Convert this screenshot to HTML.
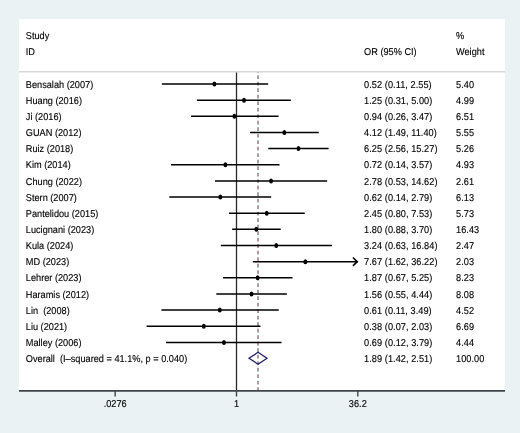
<!DOCTYPE html>
<html><head><meta charset="utf-8"><style>
html,body{margin:0;padding:0;background:#eaf2f3;width:520px;height:433px;overflow:hidden}
svg{display:block;will-change:transform}
.ci{stroke:#000;stroke-width:1.5}
.arr{stroke:#000;stroke-width:1.6;fill:none;stroke-linecap:round;stroke-linejoin:miter}
.pt{fill:#000}
</style></head><body>
<svg width="520" height="433" viewBox="0 0 520 433">
<rect x="0" y="0" width="520" height="433" fill="#eaf2f3"/>
<rect x="19" y="19" width="486" height="372" fill="#ffffff"/>
<line x1="19" y1="71.85" x2="505" y2="71.85" stroke="#d8d8d8" stroke-width="1.5"/>
<line x1="236.5" y1="72.5" x2="236.5" y2="391" stroke="#2a2a2a" stroke-width="1.3"/>
<line x1="258.02" y1="72" x2="258.02" y2="390.5" stroke="#82696f" stroke-width="1.3" stroke-dasharray="3.7,2.8" stroke-dashoffset="3.2"/>
<line x1="161.89" y1="84.00" x2="268.14" y2="84.00" class="ci"/><ellipse cx="214.40" cy="84.00" rx="1.95" ry="2.5" class="pt"/><line x1="196.91" y1="100.15" x2="290.90" y2="100.15" class="ci"/><ellipse cx="244.04" cy="100.15" rx="1.95" ry="2.5" class="pt"/><line x1="190.97" y1="116.30" x2="278.55" y2="116.30" class="ci"/><ellipse cx="234.41" cy="116.30" rx="1.95" ry="2.5" class="pt"/><line x1="249.98" y1="132.45" x2="318.76" y2="132.45" class="ci"/><ellipse cx="284.36" cy="132.45" rx="1.95" ry="2.5" class="pt"/><line x1="268.27" y1="148.60" x2="328.64" y2="148.60" class="ci"/><ellipse cx="298.44" cy="148.60" rx="1.95" ry="2.5" class="pt"/><line x1="171.00" y1="164.75" x2="279.51" y2="164.75" class="ci"/><ellipse cx="225.40" cy="164.75" rx="1.95" ry="2.5" class="pt"/><line x1="215.04" y1="180.90" x2="327.16" y2="180.90" class="ci"/><ellipse cx="271.06" cy="180.90" rx="1.95" ry="2.5" class="pt"/><line x1="169.31" y1="197.05" x2="271.18" y2="197.05" class="ci"/><ellipse cx="220.34" cy="197.05" rx="1.95" ry="2.5" class="pt"/><line x1="228.96" y1="213.20" x2="304.74" y2="213.20" class="ci"/><ellipse cx="266.79" cy="213.20" rx="1.95" ry="2.5" class="pt"/><line x1="232.18" y1="229.35" x2="280.72" y2="229.35" class="ci"/><ellipse cx="256.37" cy="229.35" rx="1.95" ry="2.5" class="pt"/><line x1="220.88" y1="245.50" x2="331.94" y2="245.50" class="ci"/><ellipse cx="276.23" cy="245.50" rx="1.95" ry="2.5" class="pt"/><line x1="252.81" y1="261.65" x2="357.81" y2="261.65" class="ci"/><polyline points="353.41,257.95 357.21,261.65 353.41,265.35" class="arr"/><ellipse cx="305.36" cy="261.65" rx="1.95" ry="2.5" class="pt"/><line x1="222.96" y1="277.80" x2="292.55" y2="277.80" class="ci"/><ellipse cx="257.66" cy="277.80" rx="1.95" ry="2.5" class="pt"/><line x1="216.29" y1="293.95" x2="286.88" y2="293.95" class="ci"/><ellipse cx="251.53" cy="293.95" rx="1.95" ry="2.5" class="pt"/><line x1="161.40" y1="310.10" x2="278.75" y2="310.10" class="ci"/><ellipse cx="219.79" cy="310.10" rx="1.95" ry="2.5" class="pt"/><line x1="146.62" y1="326.25" x2="260.43" y2="326.25" class="ci"/><ellipse cx="203.80" cy="326.25" rx="1.95" ry="2.5" class="pt"/><line x1="165.94" y1="342.40" x2="281.53" y2="342.40" class="ci"/><ellipse cx="223.96" cy="342.40" rx="1.95" ry="2.5" class="pt"/>
<path d="M249.0,358.25 L258.02,352.3 L267.0,358.25 L258.02,364.2 Z" fill="none" stroke="#1c1c5e" stroke-width="1.25"/>
<line x1="19" y1="390.9" x2="505" y2="390.9" stroke="#404448" stroke-width="1.6"/>
<g text-rendering="geometricPrecision" font-family="'Liberation Sans', sans-serif" font-size="9.2" fill="#000" stroke="#000" stroke-width="0.12">
<text transform="translate(25.80,39.20) scale(1.0,1.08)" xml:space="preserve">Study</text><text transform="translate(25.80,55.30) scale(1.0,1.08)" xml:space="preserve">ID</text><text transform="translate(364.10,55.30) scale(1.0,1.08)" xml:space="preserve">OR (95% CI)</text><text transform="translate(456.00,39.20) scale(1.0,1.08)" xml:space="preserve">%</text><text transform="translate(456.00,55.30) scale(1.0,1.08)" xml:space="preserve">Weight</text><text transform="translate(25.80,87.65) scale(1.0,1.08)" xml:space="preserve">Bensalah (2007)</text><text transform="translate(364.10,87.65) scale(1.0,1.08)" letter-spacing="0.05" xml:space="preserve">0.52 (0.11, 2.55)</text><text transform="translate(456.00,87.65) scale(1.0,1.08)" letter-spacing="0.05" xml:space="preserve">5.40</text><text transform="translate(25.80,103.80) scale(1.0,1.08)" xml:space="preserve">Huang (2016)</text><text transform="translate(364.10,103.80) scale(1.0,1.08)" letter-spacing="0.05" xml:space="preserve">1.25 (0.31, 5.00)</text><text transform="translate(456.00,103.80) scale(1.0,1.08)" letter-spacing="0.05" xml:space="preserve">4.99</text><text transform="translate(25.80,119.95) scale(1.0,1.08)" xml:space="preserve">Ji (2016)</text><text transform="translate(364.10,119.95) scale(1.0,1.08)" letter-spacing="0.05" xml:space="preserve">0.94 (0.26, 3.47)</text><text transform="translate(456.00,119.95) scale(1.0,1.08)" letter-spacing="0.05" xml:space="preserve">6.51</text><text transform="translate(25.80,136.10) scale(1.0,1.08)" xml:space="preserve">GUAN (2012)</text><text transform="translate(364.10,136.10) scale(1.0,1.08)" letter-spacing="0.05" xml:space="preserve">4.12 (1.49, 11.40)</text><text transform="translate(456.00,136.10) scale(1.0,1.08)" letter-spacing="0.05" xml:space="preserve">5.55</text><text transform="translate(25.80,152.25) scale(1.0,1.08)" xml:space="preserve">Ruiz (2018)</text><text transform="translate(364.10,152.25) scale(1.0,1.08)" letter-spacing="0.05" xml:space="preserve">6.25 (2.56, 15.27)</text><text transform="translate(456.00,152.25) scale(1.0,1.08)" letter-spacing="0.05" xml:space="preserve">5.26</text><text transform="translate(25.80,168.40) scale(1.0,1.08)" xml:space="preserve">Kim (2014)</text><text transform="translate(364.10,168.40) scale(1.0,1.08)" letter-spacing="0.05" xml:space="preserve">0.72 (0.14, 3.57)</text><text transform="translate(456.00,168.40) scale(1.0,1.08)" letter-spacing="0.05" xml:space="preserve">4.93</text><text transform="translate(25.80,184.55) scale(1.0,1.08)" xml:space="preserve">Chung (2022)</text><text transform="translate(364.10,184.55) scale(1.0,1.08)" letter-spacing="0.05" xml:space="preserve">2.78 (0.53, 14.62)</text><text transform="translate(456.00,184.55) scale(1.0,1.08)" letter-spacing="0.05" xml:space="preserve">2.61</text><text transform="translate(25.80,200.70) scale(1.0,1.08)" xml:space="preserve">Stern (2007)</text><text transform="translate(364.10,200.70) scale(1.0,1.08)" letter-spacing="0.05" xml:space="preserve">0.62 (0.14, 2.79)</text><text transform="translate(456.00,200.70) scale(1.0,1.08)" letter-spacing="0.05" xml:space="preserve">6.13</text><text transform="translate(25.80,216.85) scale(1.0,1.08)" xml:space="preserve">Pantelidou (2015)</text><text transform="translate(364.10,216.85) scale(1.0,1.08)" letter-spacing="0.05" xml:space="preserve">2.45 (0.80, 7.53)</text><text transform="translate(456.00,216.85) scale(1.0,1.08)" letter-spacing="0.05" xml:space="preserve">5.73</text><text transform="translate(25.80,233.00) scale(1.0,1.08)" xml:space="preserve">Lucignani (2023)</text><text transform="translate(364.10,233.00) scale(1.0,1.08)" letter-spacing="0.05" xml:space="preserve">1.80 (0.88, 3.70)</text><text transform="translate(456.00,233.00) scale(1.0,1.08)" letter-spacing="0.05" xml:space="preserve">16.43</text><text transform="translate(25.80,249.15) scale(1.0,1.08)" xml:space="preserve">Kula (2024)</text><text transform="translate(364.10,249.15) scale(1.0,1.08)" letter-spacing="0.05" xml:space="preserve">3.24 (0.63, 16.84)</text><text transform="translate(456.00,249.15) scale(1.0,1.08)" letter-spacing="0.05" xml:space="preserve">2.47</text><text transform="translate(25.80,265.30) scale(1.0,1.08)" xml:space="preserve">MD (2023)</text><text transform="translate(364.10,265.30) scale(1.0,1.08)" letter-spacing="0.05" xml:space="preserve">7.67 (1.62, 36.22)</text><text transform="translate(456.00,265.30) scale(1.0,1.08)" letter-spacing="0.05" xml:space="preserve">2.03</text><text transform="translate(25.80,281.45) scale(1.0,1.08)" xml:space="preserve">Lehrer (2023)</text><text transform="translate(364.10,281.45) scale(1.0,1.08)" letter-spacing="0.05" xml:space="preserve">1.87 (0.67, 5.25)</text><text transform="translate(456.00,281.45) scale(1.0,1.08)" letter-spacing="0.05" xml:space="preserve">8.23</text><text transform="translate(25.80,297.60) scale(1.0,1.08)" xml:space="preserve">Haramis (2012)</text><text transform="translate(364.10,297.60) scale(1.0,1.08)" letter-spacing="0.05" xml:space="preserve">1.56 (0.55, 4.44)</text><text transform="translate(456.00,297.60) scale(1.0,1.08)" letter-spacing="0.05" xml:space="preserve">8.08</text><text transform="translate(25.80,313.75) scale(1.0,1.08)" xml:space="preserve">Lin  (2008)</text><text transform="translate(364.10,313.75) scale(1.0,1.08)" letter-spacing="0.05" xml:space="preserve">0.61 (0.11, 3.49)</text><text transform="translate(456.00,313.75) scale(1.0,1.08)" letter-spacing="0.05" xml:space="preserve">4.52</text><text transform="translate(25.80,329.90) scale(1.0,1.08)" xml:space="preserve">Liu (2021)</text><text transform="translate(364.10,329.90) scale(1.0,1.08)" letter-spacing="0.05" xml:space="preserve">0.38 (0.07, 2.03)</text><text transform="translate(456.00,329.90) scale(1.0,1.08)" letter-spacing="0.05" xml:space="preserve">6.69</text><text transform="translate(25.80,346.05) scale(1.0,1.08)" xml:space="preserve">Malley (2006)</text><text transform="translate(364.10,346.05) scale(1.0,1.08)" letter-spacing="0.05" xml:space="preserve">0.69 (0.12, 3.79)</text><text transform="translate(456.00,346.05) scale(1.0,1.08)" letter-spacing="0.05" xml:space="preserve">4.44</text><text transform="translate(25.80,362.20) scale(1.0,1.08)" xml:space="preserve">Overall  (I–squared = 41.1%, p = 0.040)</text><text transform="translate(364.10,362.20) scale(1.0,1.08)" letter-spacing="0.05" xml:space="preserve">1.89 (1.42, 2.51)</text><text transform="translate(456.00,362.20) scale(1.0,1.08)" letter-spacing="0.05" xml:space="preserve">100.00</text>
<line x1="115.16" y1="390.5" x2="115.16" y2="396.5" stroke="#404448" stroke-width="1.4"/><text transform="translate(115.16,406.6) scale(1.0,1.08)" text-anchor="middle">.0276</text><line x1="236.50" y1="390.5" x2="236.50" y2="396.5" stroke="#404448" stroke-width="1.4"/><text transform="translate(236.50,406.6) scale(1.0,1.08)" text-anchor="middle">1</text><line x1="357.81" y1="390.5" x2="357.81" y2="396.5" stroke="#404448" stroke-width="1.4"/><text transform="translate(357.81,406.6) scale(1.0,1.08)" text-anchor="middle">36.2</text>
</g>
</svg>
</body></html>
